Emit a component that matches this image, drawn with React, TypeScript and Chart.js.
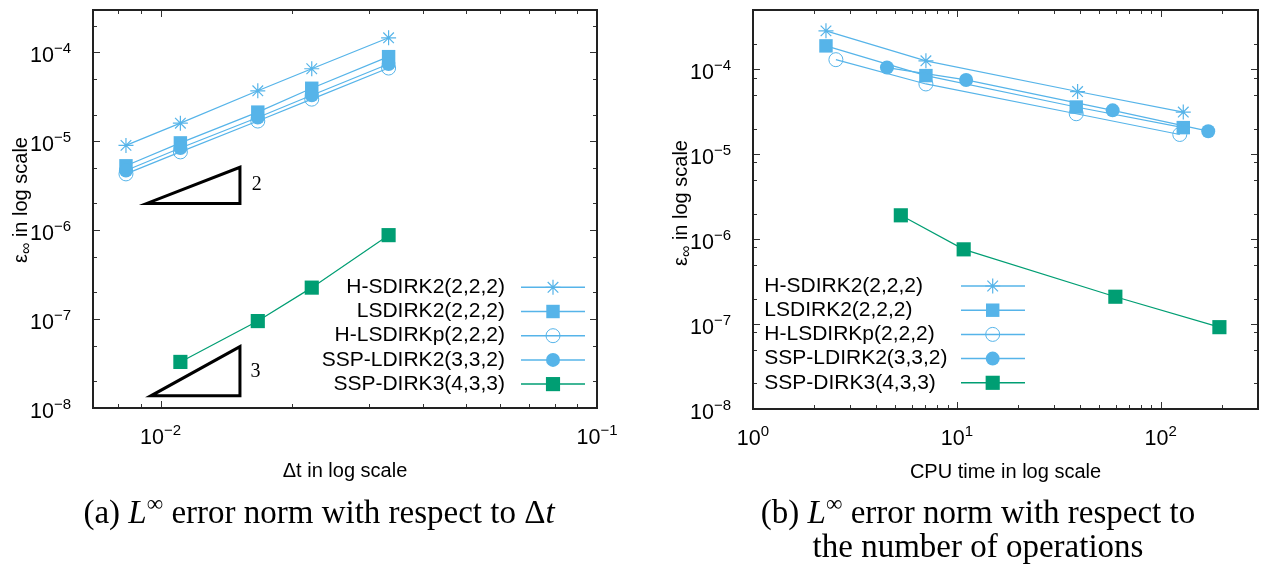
import React, { useEffect, useRef } from "react";
import { Chart, registerables } from "chart.js";
import { drawPoint } from "chart.js/helpers";

Chart.register(...registerables);

// ---------- shared ----------
const SERIES_NAMES = [
  "H-SDIRK2(2,2,2)",
  "LSDIRK2(2,2,2)",
  "H-LSDIRKp(2,2,2)",
  "SSP-LDIRK2(3,3,2)",
  "SSP-DIRK3(4,3,3)",
];
const SKY = "#56B4E9";
const GREEN = "#009E73";

// ---------- panel (a): error vs time step ----------
const A_DT = [0.00833, 0.0111, 0.0167, 0.0222, 0.0333];
const A_DT_SSPDIRK3 = [0.0111, 0.0167, 0.0222, 0.0333];
const A_HSDIRK2 = [9.0e-6, 1.6e-5, 3.7e-5, 6.55e-5, 1.46e-4];
const A_LSDIRK2 = [5.3e-6, 9.6e-6, 2.13e-5, 3.95e-5, 8.96e-5];
const A_HLSDIRKP = [4.3e-6, 7.6e-6, 1.69e-5, 2.98e-5, 6.67e-5];
const A_SSPLDIRK2 = [4.7e-6, 8.4e-6, 1.85e-5, 3.3e-5, 7.4e-5];
const A_SSPDIRK3 = [3.3e-8, 9.5e-8, 2.26e-7, 8.8e-7];

const A_TRI2_X = [0.0093, 0.0152, 0.0152, 0.0093, 0.0152];
const A_TRI2_Y = [2.0e-6, 2.0e-6, 5.1e-6, 2.0e-6, 2.0e-6];
const A_TRI3_X = [0.0095, 0.0152, 0.0152, 0.0095, 0.0152];
const A_TRI3_Y = [1.37e-8, 1.37e-8, 4.9e-8, 1.37e-8, 1.37e-8];
const A_SLOPE_TEXT = ["2", "3"];
const A_SLOPE_X = [0.0166, 0.0165];
const A_SLOPE_Y = [3.25e-6, 2.58e-8];

const A_X_RANGE = [0.007, 0.1];
const A_Y_RANGE = [1e-8, 3e-4];
const A_X_TICKS = [0.01, 0.1];
const A_X_TICK_EXP = ["−2", "−1"];
const A_Y_TICKS = [1e-8, 1e-7, 1e-6, 1e-5, 1e-4];
const A_Y_TICK_EXP = ["−8", "−7", "−6", "−5", "−4"];
const A_X_MINOR_MULTS = [2, 3, 4, 5, 6, 7, 8, 9];
const A_Y_MINOR_MULTS = [2, 5];
const A_X_TITLE = "Δt in log scale";

// ---------- panel (b): error vs CPU time ----------
const B_CPU_HSDIRK2 = [2.28, 7.05, 39.1, 129];
const B_ERR_HSDIRK2 = [2.84e-4, 1.26e-4, 5.48e-5, 3.14e-5];
const B_CPU_LSDIRK2 = [2.28, 7.05, 38.5, 129];
const B_ERR_LSDIRK2 = [1.89e-4, 8.44e-5, 3.6e-5, 2.06e-5];
const B_CPU_HLSDIRKP = [2.55, 7.05, 38.5, 124];
const B_ERR_HLSDIRKP = [1.3e-4, 6.73e-5, 3.0e-5, 1.71e-5];
const B_CPU_SSPLDIRK2 = [4.54, 11.1, 58.1, 171];
const B_ERR_SSPLDIRK2 = [1.05e-4, 7.5e-5, 3.29e-5, 1.87e-5];
const B_CPU_SSPDIRK3 = [5.31, 10.8, 59.9, 194];
const B_ERR_SSPDIRK3 = [1.91e-6, 7.59e-7, 2.1e-7, 9.2e-8];

const B_X_RANGE = [1, 300];
const B_Y_RANGE = [1e-8, 5e-4];
const B_X_TICKS = [1, 10, 100];
const B_X_TICK_EXP = ["0", "1", "2"];
const B_Y_TICKS = [1e-8, 1e-7, 1e-6, 1e-5, 1e-4];
const B_Y_TICK_EXP = ["−8", "−7", "−6", "−5", "−4"];
const B_X_MINOR_MULTS = [2, 3, 4, 5, 6, 7, 8, 9];
const B_Y_MINOR_MULTS = [2, 5, 8];
const B_X_TITLE = "CPU time in log scale";

const Y_TITLE_MAIN = "ε";
const Y_TITLE_SUB = "∞";
const Y_TITLE_REST = " in log scale";

// marker styles per series
const MARKERS = [
  { pointStyle: "star", radius: 7.5, bg: SKY, border: SKY, bw: 1.2, line: SKY },
  { pointStyle: "rect", radius: 9.5, bg: SKY, border: SKY, bw: 0, line: SKY },
  { pointStyle: "circle", radius: 7, bg: "rgba(0,0,0,0)", border: SKY, bw: 1, line: SKY },
  { pointStyle: "circle", radius: 7, bg: SKY, border: SKY, bw: 0, line: SKY },
  { pointStyle: "rect", radius: 10, bg: GREEN, border: GREEN, bw: 0, line: GREEN },
];

const SANS = '"Liberation Sans", Arial, sans-serif';
const SERIF = '"Liberation Serif", "Times New Roman", serif';

function zip(xs: number[], ys: number[]) {
  return xs.map((x, i) => ({ x, y: ys[i] }));
}

function minorTicks(lo: number, hi: number, mults: number[]) {
  const out: number[] = [];
  for (let e = Math.floor(Math.log10(lo)) - 1; e <= Math.ceil(Math.log10(hi)); e++) {
    for (const m of mults) {
      const v = m * Math.pow(10, e);
      if (v > lo * 1.0001 && v < hi * 0.9999) out.push(v);
    }
  }
  return out;
}

function seriesDataset(i: number, xs: number[], ys: number[]) {
  const m = MARKERS[i];
  return {
    label: SERIES_NAMES[i],
    data: zip(xs, ys),
    borderColor: m.line,
    borderWidth: 1.2,
    backgroundColor: m.bg,
    pointStyle: m.pointStyle,
    pointRadius: m.radius,
    pointBackgroundColor: m.bg,
    pointBorderColor: m.border,
    pointBorderWidth: m.bw,
    pointHoverRadius: m.radius,
    tension: 0,
    fill: false,
    order: 10 - i,
    clip: false,
  };
}

function triangleDataset(xs: number[], ys: number[]) {
  return {
    label: "",
    data: zip(xs, ys),
    borderColor: "#000",
    borderWidth: 3,
    borderJoinStyle: "miter",
    pointRadius: 0,
    tension: 0,
    fill: false,
    order: 20,
  };
}

type PanelCfg = {
  left: number;
  padding: { left: number; top: number; right: number; bottom: number };
  xRange: number[];
  yRange: number[];
  xTicks: number[];
  xTickExp: string[];
  yTicks: number[];
  yTickExp: string[];
  xMinor: number[];
  yMinor: number[];
  xTitle: string;
  yTitleX: number;
  yTitleY: number;
  legendAlign: "left" | "right";
  legendTextX: number;
  legendLineX1: number;
  legendLineX2: number;
  legendMarkerX: number;
  legendTopY: number;
  legendStep: number;
  datasets: any[];
  notes: { x: number; y: number; text: string }[];
};

function drawPow(
  ctx: CanvasRenderingContext2D,
  x: number,
  y: number,
  base: string,
  exp: string,
  align: "right" | "center"
) {
  const big = `21.5px ${SANS}`;
  const small = `15px ${SANS}`;
  ctx.font = big;
  const wb = ctx.measureText(base).width;
  ctx.font = small;
  const we = ctx.measureText(exp).width;
  const total = wb + we;
  const sx = align === "right" ? x - total : x - total / 2;
  ctx.textAlign = "left";
  ctx.textBaseline = "alphabetic";
  ctx.font = big;
  ctx.fillText(base, sx, y);
  ctx.font = small;
  ctx.fillText(exp, sx + wb, y - 9.5);
}

function makePlugin(cfg: PanelCfg) {
  return {
    id: "gnuFrame",
    afterDatasetsDraw(chart: any) {
      const ctx: CanvasRenderingContext2D = chart.ctx;
      const a = chart.chartArea;
      const xs = chart.scales.x;
      const ys = chart.scales.y;
      ctx.save();

      // ticks (inward, mirrored)
      ctx.strokeStyle = "#333";
      ctx.lineWidth = 1;
      const tick = (v: number, len: number, horiz: boolean) => {
        if (horiz) {
          const px = Math.round(xs.getPixelForValue(v)) + 0.5;
          ctx.beginPath();
          ctx.moveTo(px, a.bottom);
          ctx.lineTo(px, a.bottom - len);
          ctx.moveTo(px, a.top);
          ctx.lineTo(px, a.top + len);
          ctx.stroke();
        } else {
          const py = Math.round(ys.getPixelForValue(v)) + 0.5;
          ctx.beginPath();
          ctx.moveTo(a.left, py);
          ctx.lineTo(a.left + len, py);
          ctx.moveTo(a.right, py);
          ctx.lineTo(a.right - len, py);
          ctx.stroke();
        }
      };
      cfg.xMinor.forEach((v) => tick(v, 4, true));
      cfg.xTicks.forEach((v) => tick(v, 7, true));
      cfg.yMinor.forEach((v) => tick(v, 4, false));
      cfg.yTicks.forEach((v) => tick(v, 7, false));

      // frame
      ctx.strokeStyle = "#222";
      ctx.lineWidth = 2;
      ctx.strokeRect(a.left, a.top, a.right - a.left, a.bottom - a.top);

      // tick labels
      ctx.fillStyle = "#000";
      cfg.yTicks.forEach((v, i) => {
        const py = ys.getPixelForValue(v);
        drawPow(ctx, a.left - 22, py + 10, "10", cfg.yTickExp[i], "right");
      });
      cfg.xTicks.forEach((v, i) => {
        const px = xs.getPixelForValue(v);
        drawPow(ctx, px, a.bottom + 36, "10", cfg.xTickExp[i], "center");
      });

      // x title
      ctx.font = `20px ${SANS}`;
      ctx.textAlign = "center";
      ctx.textBaseline = "alphabetic";
      ctx.fillText(cfg.xTitle, (a.left + a.right) / 2, a.bottom + 69);

      // y title (rotated)
      ctx.save();
      ctx.translate(cfg.yTitleX, cfg.yTitleY);
      ctx.rotate(-Math.PI / 2);
      const fMain = `20px ${SANS}`;
      const fSub = `16px ${SANS}`;
      ctx.font = fMain;
      const w1 = ctx.measureText(Y_TITLE_MAIN).width;
      const w3 = ctx.measureText(Y_TITLE_REST).width;
      ctx.font = fSub;
      const w2 = ctx.measureText(Y_TITLE_SUB).width;
      let sx = -(w1 + w2 + w3) / 2;
      ctx.textAlign = "left";
      ctx.font = fMain;
      ctx.fillText(Y_TITLE_MAIN, sx, 7);
      sx += w1;
      ctx.font = fSub;
      ctx.fillText(Y_TITLE_SUB, sx, 11);
      sx += w2;
      ctx.font = fMain;
      ctx.fillText(Y_TITLE_REST, sx, 7);
      ctx.restore();

      // slope notes
      ctx.font = `20px ${SERIF}`;
      ctx.textAlign = "center";
      ctx.textBaseline = "middle";
      cfg.notes.forEach((n) => {
        ctx.fillText(n.text, xs.getPixelForValue(n.x), ys.getPixelForValue(n.y));
      });

      // legend
      for (let i = 0; i < SERIES_NAMES.length; i++) {
        const ds = chart.data.datasets[i];
        const y = cfg.legendTopY + i * cfg.legendStep;
        ctx.font = `21px ${SANS}`;
        ctx.fillStyle = "#000";
        ctx.textAlign = cfg.legendAlign;
        ctx.textBaseline = "middle";
        ctx.fillText(ds.label, cfg.legendTextX, y);
        ctx.strokeStyle = ds.borderColor;
        ctx.lineWidth = 1.5;
        ctx.beginPath();
        ctx.moveTo(cfg.legendLineX1, y);
        ctx.lineTo(cfg.legendLineX2, y);
        ctx.stroke();
        ctx.fillStyle = ds.pointBackgroundColor;
        ctx.strokeStyle = ds.pointBorderColor;
        ctx.lineWidth = ds.pointBorderWidth;
        drawPoint(
          ctx,
          {
            pointStyle: ds.pointStyle,
            radius: ds.pointRadius,
            rotation: 0,
            borderWidth: ds.pointBorderWidth,
          } as any,
          cfg.legendMarkerX,
          y
        );
      }
      ctx.restore();
    },
  };
}

function Panel({ cfg }: { cfg: PanelCfg }) {
  const ref = useRef<HTMLCanvasElement>(null);
  useEffect(() => {
    const chart = new Chart(ref.current as HTMLCanvasElement, {
      type: "line",
      data: { datasets: cfg.datasets },
      options: {
        animation: false,
        responsive: false,
        devicePixelRatio: window.devicePixelRatio || 1,
        layout: { padding: cfg.padding },
        plugins: { legend: { display: false }, tooltip: { enabled: false } },
        events: [],
        scales: {
          x: {
            type: "logarithmic",
            min: cfg.xRange[0],
            max: cfg.xRange[1],
            display: false,
          },
          y: {
            type: "logarithmic",
            min: cfg.yRange[0],
            max: cfg.yRange[1],
            display: false,
          },
        },
      } as any,
      plugins: [makePlugin(cfg) as any],
    });
    return () => chart.destroy();
  }, []);
  return (
    <canvas
      ref={ref}
      width={634}
      height={569}
      style={{ position: "absolute", left: cfg.left, top: 0, width: 634, height: 569 }}
    />
  );
}

const CFG_A: PanelCfg = {
  left: 0,
  padding: { left: 93, top: 3, right: 37, bottom: 161 },
  xRange: A_X_RANGE,
  yRange: A_Y_RANGE,
  xTicks: A_X_TICKS,
  xTickExp: A_X_TICK_EXP,
  yTicks: A_Y_TICKS,
  yTickExp: A_Y_TICK_EXP,
  xMinor: minorTicks(A_X_RANGE[0], A_X_RANGE[1], A_X_MINOR_MULTS),
  yMinor: minorTicks(A_Y_RANGE[0], A_Y_RANGE[1], A_Y_MINOR_MULTS),
  xTitle: A_X_TITLE,
  yTitleX: 20,
  yTitleY: 200,
  legendAlign: "right",
  legendTextX: 505,
  legendLineX1: 521,
  legendLineX2: 585,
  legendMarkerX: 553,
  legendTopY: 287.3,
  legendStep: 24.2,
  datasets: [
    seriesDataset(0, A_DT, A_HSDIRK2),
    seriesDataset(1, A_DT, A_LSDIRK2),
    seriesDataset(2, A_DT, A_HLSDIRKP),
    seriesDataset(3, A_DT, A_SSPLDIRK2),
    seriesDataset(4, A_DT_SSPDIRK3, A_SSPDIRK3),
    triangleDataset(A_TRI2_X, A_TRI2_Y),
    triangleDataset(A_TRI3_X, A_TRI3_Y),
  ],
  notes: A_SLOPE_TEXT.map((t, i) => ({ x: A_SLOPE_X[i], y: A_SLOPE_Y[i], text: t })),
};

const CFG_B: PanelCfg = {
  left: 634,
  padding: { left: 119, top: 8, right: 10, bottom: 160 },
  xRange: B_X_RANGE,
  yRange: B_Y_RANGE,
  xTicks: B_X_TICKS,
  xTickExp: B_X_TICK_EXP,
  yTicks: B_Y_TICKS,
  yTickExp: B_Y_TICK_EXP,
  xMinor: minorTicks(B_X_RANGE[0], B_X_RANGE[1], B_X_MINOR_MULTS),
  yMinor: minorTicks(B_Y_RANGE[0], B_Y_RANGE[1], B_Y_MINOR_MULTS),
  xTitle: B_X_TITLE,
  yTitleX: 46,
  yTitleY: 203,
  legendAlign: "left",
  legendTextX: 130.3,
  legendLineX1: 327,
  legendLineX2: 391,
  legendMarkerX: 358.7,
  legendTopY: 286,
  legendStep: 24.2,
  datasets: [
    seriesDataset(0, B_CPU_HSDIRK2, B_ERR_HSDIRK2),
    seriesDataset(1, B_CPU_LSDIRK2, B_ERR_LSDIRK2),
    seriesDataset(2, B_CPU_HLSDIRKP, B_ERR_HLSDIRKP),
    seriesDataset(3, B_CPU_SSPLDIRK2, B_ERR_SSPLDIRK2),
    seriesDataset(4, B_CPU_SSPDIRK3, B_ERR_SSPDIRK3),
  ],
  notes: [],
};

const capStyle: React.CSSProperties = {
  position: "absolute",
  width: 800,
  textAlign: "center",
  fontFamily: SERIF,
  fontSize: 33,
  lineHeight: "34px",
  color: "#000",
  whiteSpace: "nowrap",
};
const supStyle: React.CSSProperties = {
  fontSize: "0.7em",
  position: "relative",
  top: "-0.5em",
  lineHeight: 0,
};

export default function App() {
  return (
    <div
      style={{
        position: "fixed",
        left: 0,
        top: 0,
        width: 1268,
        height: 569,
        background: "#fff",
        overflow: "hidden",
      }}
    >
      <Panel cfg={CFG_A} />
      <Panel cfg={CFG_B} />
      <div style={{ ...capStyle, left: 319 - 400, top: 495 }}>
        (a) <i>L</i>
        <span style={supStyle}>∞</span> error norm with respect to Δ<i>t</i>
      </div>
      <div style={{ ...capStyle, left: 978 - 400, top: 495 }}>
        (b) <i>L</i>
        <span style={supStyle}>∞</span> error norm with respect to
        <br />
        the number of operations
      </div>
    </div>
  );
}
